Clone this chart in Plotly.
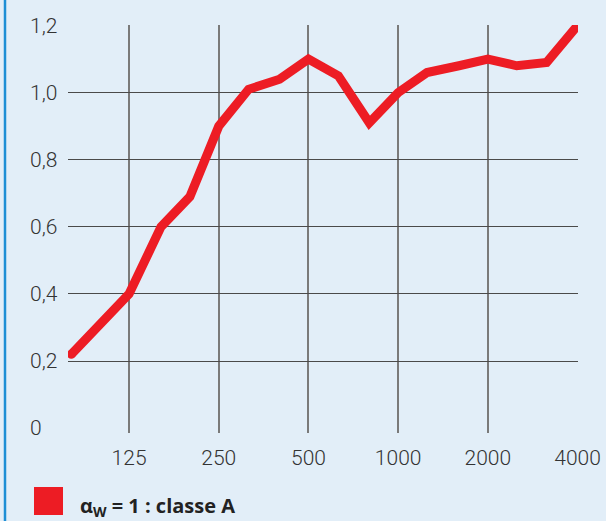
import math
import plotly.graph_objects as go

# Data
freqs = [80, 125, 160, 200, 250, 315, 400, 500, 630, 800, 1000, 1250, 1600, 2000, 2500, 3150, 4000]
alpha = [0.22, 0.40, 0.60, 0.69, 0.90, 1.01, 1.04, 1.10, 1.05, 0.91, 1.00, 1.06, 1.08, 1.10, 1.08, 1.09, 1.20]
x_ticks = [125, 250, 500, 1000, 2000, 4000]
x_tick_labels = ["125", "250", "500", "1000", "2000", "4000"]
y_ticks = [0, 0.2, 0.4, 0.6, 0.8, 1.0, 1.2]
y_tick_labels = ["0", "0,2", "0,4", "0,6", "0,8", "1,0", "1,2"]
legend_label = "<b>α<sub>W</sub> = 1 : classe A</b>"

W, H = 606, 521
L, R, T, B = 68, 28, 25, 88
pw, ph = W - L - R, H - T - B

RED = "#ED1C24"
BG = "#E2EEF8"
FONT = "Roboto, sans-serif"
TICKFONT = dict(family=FONT, size=21, color="#333333", weight=300)

def px_x(p):
    return (p - L) / pw

def px_y(p):
    return (H - B - p) / ph

fig = go.Figure()
fig.add_trace(go.Scatter(
    x=freqs, y=alpha, mode="lines",
    line=dict(color=RED, width=9), showlegend=False, hoverinfo="skip"))
fig.add_trace(go.Scatter(
    x=[freqs[0], freqs[-1]], y=[alpha[0], alpha[-1]], mode="markers",
    marker=dict(color=RED, size=9, line=dict(width=0)), showlegend=False, hoverinfo="skip"))

fig.update_xaxes(
    type="log", range=[1.892, math.log10(4000) + 0.0015],
    tickvals=x_ticks, ticktext=x_tick_labels,
    showgrid=True, gridcolor="#7a7a7a", gridwidth=1.6,
    zeroline=False, showline=False, ticks="",
    ticklabelstandoff=10, automargin=False,
    tickfont=TICKFONT)

fig.update_yaxes(
    range=[-0.0143, 1.2015],
    tickvals=y_ticks[1:], showticklabels=False,
    showgrid=True, gridcolor="#4a4a4a", gridwidth=1.3,
    zeroline=False, showline=False, ticks="", automargin=False)

annotations = []
for v, t in zip(y_ticks, y_tick_labels):
    annotations.append(dict(
        x=px_x(28), xref="paper", y=v, yref="y", text=t, showarrow=False,
        xanchor="left", yanchor="middle", font=TICKFONT))
annotations.append(dict(
    x=px_x(78), xref="paper", y=px_y(506), yref="paper", text=legend_label,
    showarrow=False, xanchor="left", yanchor="middle",
    font=dict(family="Open Sans, sans-serif", size=20, color="#222222")))

shapes = [
    dict(type="line", xref="paper", yref="paper",
         x0=px_x(5), x1=px_x(5), y0=px_y(-2), y1=px_y(H + 2),
         line=dict(color="#1E8FD5", width=2.5)),
    dict(type="rect", xref="paper", yref="paper",
         x0=px_x(34), x1=px_x(63), y0=px_y(515), y1=px_y(487),
         fillcolor=RED, line=dict(width=0)),
]

fig.update_layout(
    width=W, height=H,
    margin=dict(l=L, r=R, t=T, b=B),
    paper_bgcolor=BG, plot_bgcolor=BG,
    annotations=annotations, shapes=shapes,
    showlegend=False)

fig.write_html(
    "out.html",
    config={"displayModeBar": False},
    post_script="document.body.style.margin='0';document.body.style.overflow='hidden';document.body.style.background='%s';" % BG)
